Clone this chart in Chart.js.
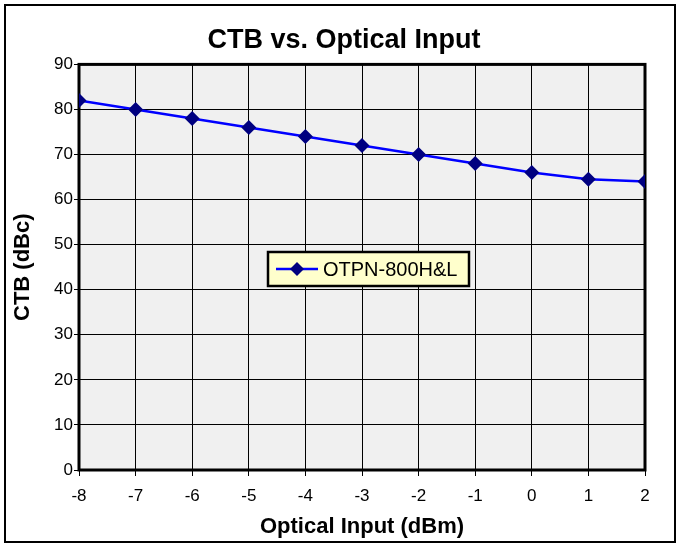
<!DOCTYPE html>
<html>
<head>
<meta charset="utf-8">
<script src="https://cdn.jsdelivr.net/npm/chart.js@4.4.0/dist/chart.umd.min.js"></script>
<style>
  html, body { margin: 0; padding: 0; background: #fff; }
  #wrap { width: 680px; height: 548px; }
</style>
</head>
<body>
<div id="wrap"><canvas id="myChart"></canvas></div>
<script>
// data
const inputs = [-8, -7, -6, -5, -4, -3, -2, -1, 0, 1, 2];
const ctb = [82, 80, 78, 76, 74, 72, 70, 68, 66, 64.5, 64];
const seriesName = 'OTPN-800H&L';

const font = 'Arial, "Liberation Sans", sans-serif';

// grey plot area + frame + outer border + legend box
const decor = {
    id: 'decor',
    beforeDraw(chart) {
        const { ctx, chartArea: a } = chart;
        ctx.save();
        ctx.fillStyle = '#f0f0f0';
        ctx.fillRect(a.left, a.top, a.right - a.left, a.bottom - a.top);
        ctx.restore();
    },
    beforeDatasetsDraw(chart) {
        const { ctx, chartArea: a } = chart;
        ctx.save();
        ctx.strokeStyle = '#000';
        ctx.lineWidth = 3;
        ctx.strokeRect(a.left, a.top, a.right - a.left, a.bottom - a.top);
        ctx.restore();
    },
    afterDraw(chart) {
        const { ctx } = chart;
        ctx.save();
        ctx.strokeStyle = '#000';
        ctx.lineWidth = 2;
        ctx.strokeRect(5, 5, 670, 537);

        // legend
        const x = 268, y = 252, w = 201, h = 34;
        ctx.fillStyle = '#ffffcc';
        ctx.fillRect(x, y, w, h);
        ctx.lineWidth = 2.5;
        ctx.strokeRect(x, y, w, h);
        const ly = y + h / 2;
        ctx.strokeStyle = '#0000ff';
        ctx.lineWidth = 2.5;
        ctx.beginPath();
        ctx.moveTo(x + 8, ly);
        ctx.lineTo(x + 50, ly);
        ctx.stroke();
        ctx.fillStyle = '#000080';
        ctx.beginPath();
        ctx.moveTo(x + 29, ly - 7);
        ctx.lineTo(x + 36, ly);
        ctx.lineTo(x + 29, ly + 7);
        ctx.lineTo(x + 22, ly);
        ctx.closePath();
        ctx.fill();
        ctx.fillStyle = '#000';
        ctx.font = '20px ' + font;
        ctx.textBaseline = 'middle';
        ctx.fillText(chart.data.datasets[0].label, x + 55, ly + 1);
        ctx.restore();
    }
};

new Chart(document.getElementById('myChart'), {
    type: 'line',
    data: {
        datasets: [{
            label: seriesName,
            data: inputs.map((v, i) => ({ x: v, y: ctb[i] })),
            borderColor: '#0000ff',
            borderWidth: 2.5,
            pointStyle: 'rectRot',
            pointRadius: 7.5,
            pointBackgroundColor: '#000080',
            pointBorderColor: '#000080',
            pointBorderWidth: 0,
            tension: 0
        }]
    },
    options: {
        responsive: true,
        maintainAspectRatio: false,
        animation: false,
        layout: { padding: { left: 8, right: 0, top: 0, bottom: 0 } },
        plugins: {
            legend: { display: false },
            tooltip: { enabled: false },
            title: {
                display: true,
                text: 'CTB vs. Optical Input',
                color: '#000',
                font: { family: font, size: 27, weight: 'bold' },
                padding: { top: 24, bottom: 8 }
            }
        },
        scales: {
            x: {
                type: 'linear',
                min: -8,
                max: 2,
                afterFit: s => { s.height = 78; },
                ticks: { stepSize: 1, color: '#000', font: { family: font, size: 17 }, padding: 10 },
                grid: { color: '#000', lineWidth: 1, tickLength: 6 },
                border: { display: false },
                title: {
                    display: true,
                    text: 'Optical Input (dBm)',
                    color: '#000',
                    font: { family: font, size: 22, weight: 'bold' },
                    padding: { top: 0, bottom: 8 }
                }
            },
            y: {
                min: 0,
                max: 90,
                afterFit: s => { s.width = 71; },
                ticks: { stepSize: 10, color: '#000', font: { family: font, size: 17 }, padding: 1 },
                grid: { color: '#000', lineWidth: 1, tickLength: 5 },
                border: { display: false },
                title: {
                    display: true,
                    text: 'CTB (dBc)',
                    color: '#000',
                    font: { family: font, size: 22, weight: 'bold' },
                    padding: { top: 2, bottom: 0 }
                }
            },
            // empty right axis, only keeps room on the right of the plot
            y2: {
                position: 'right',
                afterFit: s => { s.width = 35; },
                ticks: { display: false },
                grid: { display: false },
                border: { display: false }
            }
        }
    },
    plugins: [decor]
});
</script>
</body>
</html>
